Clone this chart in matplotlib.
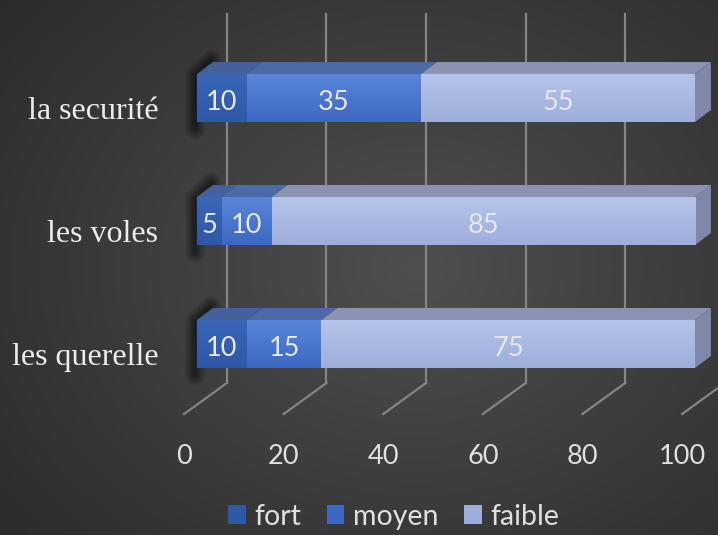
import numpy as np
import matplotlib
matplotlib.use("Agg")
import matplotlib.pyplot as plt
from matplotlib.patches import Polygon, Patch

categories = ["les querelle", "les voles", "la securité"]
series = ["fort", "moyen", "faible"]
fort = [10, 5, 10]
moyen = [15, 10, 35]
faible = [75, 85, 55]
xticks = [0, 20, 40, 60, 80, 100]

front_top = {"fort": "#3a66b8", "moyen": "#5a86da", "faible": "#b6c4ea"}
front_bot = {"fort": "#2f58a6", "moyen": "#3c68c2", "faible": "#9eaedb"}
top_col = {"fort": "#44619e", "moyen": "#4c6aa8", "faible": "#8a94b2"}
side_col = "#7d88aa"
txt_col = "#e8e8e8"

fig = plt.figure(figsize=(7.18, 5.35), dpi=100)
ax = fig.add_axes([0, 0, 1, 1])
xmin, xmax = -197 / 4.98, (718 - 197) / 4.98
ymin, ymax = -191 / 123, 344 / 123
ax.set_xlim(xmin, xmax)
ax.set_ylim(ymin, ymax)
ax.axis("off")

# radial background
gx, gy = np.meshgrid(np.linspace(0, 1, 300), np.linspace(0, 1, 240))
r = np.sqrt(((gx - 0.58) / 0.75) ** 2 + ((gy - 0.5) / 0.8) ** 2)
bg = np.clip(0.31 - 0.14 * r, 0.16, 0.31)
ax.imshow(np.dstack([bg, bg, bg]), extent=(xmin, xmax, ymin, ymax),
          aspect="auto", zorder=0, origin="lower")

# 3d-ish gridlines
back_dx, front_dx = 6.0, -2.6
floor_y, floor_dy, wall_top = -0.317, -0.252, 2.683
for v in xticks:
    ax.plot([v + back_dx, v + back_dx], [floor_y, wall_top], color="#858585", lw=1.6, zorder=1)
    ax.plot([v + back_dx, v + front_dx], [floor_y, floor_y + floor_dy], color="#858585", lw=1.6, zorder=1)
    ax.text(v + front_dx, -0.976, str(v), color="#e0e0e0", fontsize=19.5,
            family="Lato", ha="center", va="baseline", zorder=5)

# bars
d, dy, h = 3.2, 0.0976, 0.195
grad = np.linspace(0, 1, 50).reshape(-1, 1)
for i, cat in enumerate(categories):
    vals = {"fort": fort[i], "moyen": moyen[i], "faible": faible[i]}
    yb, yt = i - h, i + h
    # soft shadow along the left end
    for lw in [14, 11, 8, 6, 4, 2.5]:
        ax.plot([d * 0.9, -0.4, -0.4], [yt + dy + 0.02, yt - 0.01, yb - 0.06],
                color="black", lw=lw, alpha=0.1, solid_capstyle="round",
                solid_joinstyle="round", zorder=2)
    left = 0
    for s in series:
        v = vals[s]
        right = left + v
        ax.add_patch(Polygon([(left, yt), (right, yt), (right + d, yt + dy), (left + d, yt + dy)],
                             closed=True, facecolor=top_col[s], edgecolor="none", zorder=3))
        c1 = np.array(matplotlib.colors.to_rgb(front_top[s]))
        c2 = np.array(matplotlib.colors.to_rgb(front_bot[s]))
        img = c2 + (c1 - c2) * grad
        ax.imshow(img[:, None, :].repeat(2, axis=1), extent=(left, right, yb, yt),
                  aspect="auto", origin="lower", zorder=4)
        ax.text((left + right) / 2, i - 0.098, str(v), color=txt_col, fontsize=19.5,
                family="Lato", ha="center", va="baseline", zorder=6)
        left = right
    ax.add_patch(Polygon([(left, yb), (left, yt), (left + d, yt + dy), (left + d, yb + dy)],
                         closed=True, facecolor=side_col, edgecolor="none", zorder=3))
    ax.text(-7.8, i - 0.171, cat, color="#ececec", fontsize=23, family="Liberation Serif",
            ha="right", va="baseline", zorder=6)

ax.set_xlim(xmin, xmax)
ax.set_ylim(ymin, ymax)

handles = [Patch(facecolor=front_bot[s], edgecolor="none", label=s) for s in series]
leg = fig.legend(handles=handles, loc="lower center", bbox_to_anchor=(0.548, -0.038), ncol=3,
                 frameon=False, handlelength=0.62, handleheight=0.62,
                 handletextpad=0.3, columnspacing=0.9, prop={"family": "Lato", "size": 20.5})
for t in leg.get_texts():
    t.set_color("#e0e0e0")

fig.savefig("out.png", dpi=100)
